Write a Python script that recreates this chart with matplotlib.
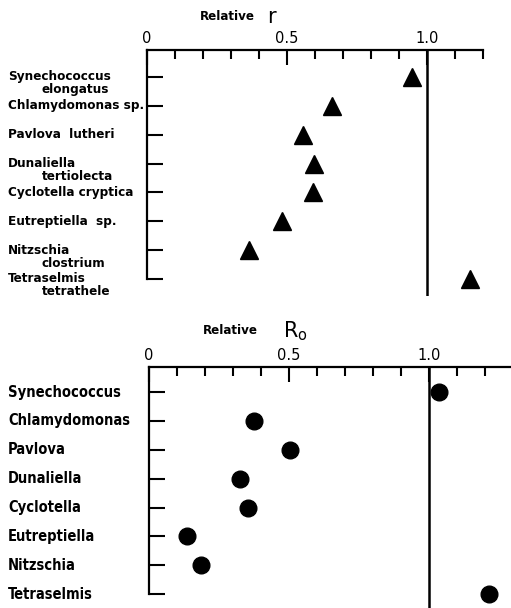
import matplotlib
matplotlib.use("Agg")
import matplotlib.pyplot as plt
from matplotlib.transforms import blended_transform_factory

# --- data ---
r_names_1 = ["Synechococcus", "Chlamydomonas sp.", "Pavlova  lutheri", "Dunaliella",
             "Cyclotella cryptica", "Eutreptiella  sp.", "Nitzschia", "Tetraselmis"]
r_names_2 = ["elongatus", "", "", "tertiolecta", "", "", "clostrium", "tetrathele"]
rel_r = [0.946, 0.662, 0.556, 0.598, 0.594, 0.482, 0.363, 1.154]

r0_names = ["Synechococcus", "Chlamydomonas", "Pavlova", "Dunaliella",
            "Cyclotella", "Eutreptiella", "Nitzschia", "Tetraselmis"]
rel_r0 = [1.036, 0.375, 0.502, 0.324, 0.355, 0.137, 0.186, 1.216]

major_x = [0, 0.5, 1.0]
major_lbl = ["0", "0.5", "1.0"]
minor_x = [0.1, 0.2, 0.3, 0.4, 0.6, 0.7, 0.8, 0.9, 1.1, 1.2]

plt.rcParams['font.family'] = ['DejaVu Sans']
W, H = 511, 608
fig = plt.figure(figsize=(W / 100, H / 100), dpi=100)
txt = dict(fontweight="bold", fontstretch="condensed")


def style_axis(ax, xmax_spine):
    ax.set_facecolor("none")
    for s in ("right", "bottom"):
        ax.spines[s].set_visible(False)
    for s in ("top", "left"):
        ax.spines[s].set_linewidth(1.6)
    ax.spines["top"].set_bounds(0, xmax_spine)
    ax.spines["left"].set_bounds(ax.get_ylim()[1], 7)
    ax.xaxis.tick_top()
    ax.set_xticks(major_x)
    ax.set_xticklabels(major_lbl, fontsize=10.5)
    ax.set_xticks(minor_x, minor=True)
    ax.tick_params(axis="x", which="major", direction="in", length=11, width=1.5, pad=3)
    ax.tick_params(axis="x", which="minor", direction="in", length=6.5, width=1.5)
    ax.set_yticks(range(8))
    ax.set_yticklabels([])
    ax.tick_params(axis="y", direction="in", length=11.5, width=1.5)
    ax.axvline(1.0, color="black", lw=1.8)


# --- top panel: relative r ---
ax1 = fig.add_axes([147 / W, 1 - 296 / H, 336 / W, 246 / H])
ax1.set_xlim(0, 1.2)
ax1.set_ylim(7.59, -0.935)
ax1.plot(rel_r, range(8), linestyle="none", marker="^", markersize=13,
         color="black", clip_on=False)
style_axis(ax1, 1.2)
tr1 = blended_transform_factory(fig.transFigure, ax1.transData)
for i, (a, b) in enumerate(zip(r_names_1, r_names_2)):
    ax1.text(8 / W, i, a, transform=tr1, fontsize=9.6, va="center", ha="left", **txt)
    if b:
        ax1.text(42 / W, i + 0.45, b, transform=tr1, fontsize=9.6, va="center", ha="left", **txt)
fig.text(200 / W, 1 - 16 / H, "Relative", fontsize=9.5, va="center", ha="left", **txt)
fig.text(267 / W, 1 - 17 / H, "r", fontsize=15, va="center", ha="left")

# --- bottom panel: relative R0 ---
ax2 = fig.add_axes([149 / W, 0, 362 / W, 241 / H])
ax2.set_xlim(0, 1.293)
ax2.set_ylim(7.48, -0.866)
ax2.plot(rel_r0, range(8), linestyle="none", marker="o", markersize=12,
         color="black", clip_on=False)
style_axis(ax2, 1.293)
tr2 = blended_transform_factory(fig.transFigure, ax2.transData)
for i, a in enumerate(r0_names):
    ax2.text(8 / W, i, a, transform=tr2, fontsize=10.5, va="center", ha="left", **txt)
fig.text(203 / W, 1 - 331 / H, "Relative", fontsize=9.5, va="center", ha="left", **txt)
fig.text(283 / W, 1 - 331 / H, r"R$_\mathregular{o}$", fontsize=15, va="center", ha="left")

fig.savefig("out.png", dpi=100)
